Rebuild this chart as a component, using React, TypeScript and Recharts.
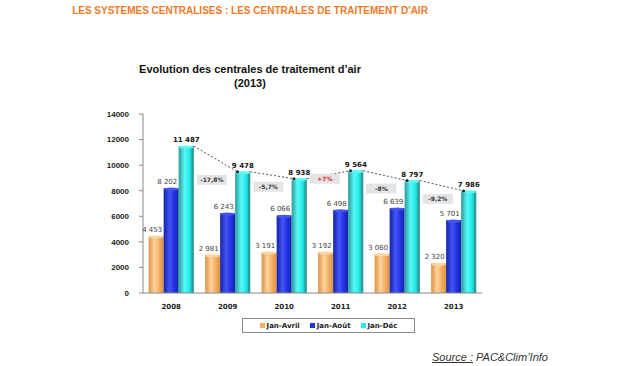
import React from 'react'
import {
  ComposedChart, Bar, Line, XAxis, YAxis, LabelList,
} from 'recharts'

const years = ['2008', '2009', '2010', '2011', '2012', '2013']
const janAvril = [4453, 2981, 3191, 3192, 3060, 2320]
const janAout = [8202, 6243, 6066, 6498, 6639, 5701]
const janDec = [11487, 9478, 8938, 9564, 8797, 7986]
const evolution = ['', '-17,8%', '-5,7%', '+7%', '-8%', '-9,2%']
const yTicks = [0, 2000, 4000, 6000, 8000, 10000, 12000, 14000]
const boundaries = [0, 1, 2, 3, 4, 5, 6]

const series = [
  { key: 'avril', name: 'Jan-Avril', color: '#F5AE62', light: '#FDD4A0', dark: '#DE9240', slot: -1 },
  { key: 'aout', name: 'Jan-Août', color: '#2233E6', light: '#4455F5', dark: '#1222A8', slot: 0 },
  { key: 'dec', name: 'Jan-Déc', color: '#22EDED', light: '#5AF8F8', dark: '#2A9A9A', slot: 1 },
]

const CAT_GAP = 0.1 // barCategoryGap as a share of the band
const barStep = (1 - 2 * CAT_GAP) / 3 // one bar width, in band units

const data = years.map((y, i) => ({
  year: y,
  pos: i + 0.5,
  avril: janAvril[i],
  aout: janAout[i],
  dec: janDec[i],
  evo: evolution[i],
}))

// dashed arrows: from the top right of one cyan bar to the top left of the next
const arrows: { pos: number; dec: number | null; end?: boolean }[] = []
janDec.slice(1).forEach((v, i) => {
  const from = i + 0.5 + barStep * 1.5
  const to = i + 1.5 + barStep * 0.65
  arrows.push({ pos: from, dec: janDec[i] })
  arrows.push({ pos: to, dec: v, end: true })
  arrows.push({ pos: to, dec: null })
})

const CHART_W = 625
const CHART_H = 366
const PLOT = { top: 114, right: 143, left: 143, bottom: 73 }

// thousands with a no-break space so the label doesn't wrap
const fmt = (v: number) => String(v).replace(/\B(?=(\d{3})+(?!\d))/g, '\u00A0')

const Cyl = (s: typeof series[number]) => (props: any) => {
  const { x, y, width, height } = props
  if (!height || height <= 0) return null
  return (
    <g>
      <rect x={x} y={y} width={width} height={height} fill={`url(#g-${s.key})`} />
      {s.key === 'dec' && (
        <rect x={x + width - 2} y={y} width={2} height={height} fill={s.dark} />
      )}
      <ellipse cx={x + width / 2} cy={y + 1} rx={width / 2} ry={1.6} fill={s.light} />
    </g>
  )
}

const GrayLabel = (props: any) => {
  const { x, y, value } = props
  return (
    <text x={x - 4} y={y - 4} textAnchor="middle" fontSize={7} fontFamily="DejaVu Sans" fill="#444">
      {fmt(Number(value))}
    </text>
  )
}

const DecLabel = (props: any) => {
  const { x, y, value } = props
  return (
    <text x={x} y={y - 4} textAnchor="middle" fontSize={7} fontWeight="bold" fontFamily="DejaVu Sans" fill="#111">
      {fmt(Number(value))}
    </text>
  )
}

const EvoBox = (props: any) => {
  const { x, y, value } = props
  if (!value) return null
  const cx = x - 31
  const cy = y + 8
  return (
    <g>
      <rect x={cx - 15} y={cy - 5} width={30} height={10} fill="#E4E4E4" />
      <text x={cx} y={cy + 2.3} textAnchor="middle" fontSize={6} fontWeight="bold"
        fontFamily="DejaVu Sans" fill={value.startsWith('+') ? '#E0201E' : '#333'}>
        {value}
      </text>
    </g>
  )
}

const ArrowDot = (props: any) => {
  const { cx, cy, payload } = props
  if (!payload?.end || cy == null) return <g />
  return <circle cx={cx} cy={cy} r={1.5} fill="#222" />
}

export default function App() {
  return (
    <div style={{ position: 'absolute', left: 0, top: 0, width: CHART_W, height: CHART_H, background: '#fff', fontFamily: 'Liberation Sans, Arial, sans-serif' }}>
      <div style={{ position: 'absolute', left: 0, width: 500, top: 5, textAlign: 'center', color: '#F07A26', fontWeight: 'bold', fontSize: 10 }}>
        LES SYSTEMES CENTRALISES : LES CENTRALES DE TRAITEMENT D'AIR
      </div>
      <div style={{ position: 'absolute', left: 0, width: 500, top: 62, textAlign: 'center', color: '#111', fontWeight: 'bold', fontSize: 11, lineHeight: '14px' }}>
        Evolution des centrales de traitement d’air<br />(2013)
      </div>

      {/* bars, axes and the dashed arrows */}
      <ComposedChart width={CHART_W} height={CHART_H} data={data}
        margin={{ top: PLOT.top, right: PLOT.right, left: PLOT.left - 40, bottom: PLOT.bottom - 30 }}
        barCategoryGap={`${CAT_GAP * 100}%`} barGap={0}
        style={{ position: 'absolute', left: 0, top: 0 }}>
        <defs>
          {series.map(s => (
            <linearGradient key={s.key} id={`g-${s.key}`} x1="0" y1="0" x2="1" y2="0">
              <stop offset="0%" stopColor={s.dark} />
              <stop offset="40%" stopColor={s.light} />
              <stop offset="70%" stopColor={s.color} />
              <stop offset="100%" stopColor={s.dark} />
            </linearGradient>
          ))}
        </defs>
        <XAxis xAxisId="grid" type="number" dataKey="pos" domain={[0, 6]} ticks={boundaries}
          height={0} tick={false} axisLine={false} tickLine={{ stroke: '#888' }} tickSize={4} />
        <XAxis dataKey="year" height={30} axisLine={{ stroke: '#888' }} tickLine={false}
          tick={{ fontSize: 7, fontWeight: 'bold', fill: '#222', fontFamily: 'DejaVu Sans' }} tickMargin={5} />
        <XAxis xAxisId="seg" type="number" dataKey="pos" domain={[0, 6]} hide />
        <YAxis domain={[0, 14000]} ticks={yTicks} width={40} axisLine={{ stroke: '#888' }}
          tickLine={{ stroke: '#888' }} tickSize={4} tickMargin={10}
          tick={{ fontSize: 8, fontWeight: 'bold', fill: '#222', fontFamily: 'Liberation Sans' }} />
        <Line xAxisId="seg" data={arrows} dataKey="dec" stroke="#555" strokeWidth={1} strokeDasharray="2 2"
          connectNulls={false} dot={ArrowDot} activeDot={false} isAnimationActive={false} />
        {series.map(s => (
          <Bar key={s.key} dataKey={s.key} name={s.name} fill={s.color} shape={Cyl(s)} isAnimationActive={false} />
        ))}
      </ComposedChart>

      {/* labels, drawn on top of every bar */}
      <ComposedChart width={CHART_W} height={CHART_H} data={data} margin={PLOT}
        style={{ position: 'absolute', left: 0, top: 0 }}>
        {series.map(s => (
          <XAxis key={s.key} xAxisId={`col-${s.key}`} type="number" dataKey="pos"
            domain={[-s.slot * barStep, 6 - s.slot * barStep]} hide />
        ))}
        <YAxis domain={[0, 14000]} hide />
        {series.map(s => (
          <Line key={s.key} xAxisId={`col-${s.key}`} dataKey={s.key} stroke="none" dot={false}
            activeDot={false} isAnimationActive={false}>
            <LabelList dataKey={s.key} content={s.key === 'dec' ? DecLabel : GrayLabel} />
            {s.key === 'dec' && <LabelList dataKey="evo" content={EvoBox} />}
          </Line>
        ))}
      </ComposedChart>

      <div style={{ position: 'absolute', left: 242, top: 318, width: 171, height: 13, border: '1px solid #888', display: 'flex', alignItems: 'center', justifyContent: 'center', gap: 10, fontFamily: 'DejaVu Sans', fontWeight: 'bold', fontSize: 7, color: '#222' }}>
        {series.map(s => (
          <span key={s.key} style={{ display: 'flex', alignItems: 'center', gap: 2 }}>
            <span style={{ width: 5, height: 5, background: s.color, display: 'inline-block' }} />
            {s.name}
          </span>
        ))}
      </div>

      <div style={{ position: 'absolute', left: 432, top: 351, fontStyle: 'italic', fontSize: 11, color: '#333', whiteSpace: 'nowrap' }}>
        <span style={{ textDecoration: 'underline' }}>Source :</span> PAC&amp;Clim’Info
      </div>
    </div>
  )
}
